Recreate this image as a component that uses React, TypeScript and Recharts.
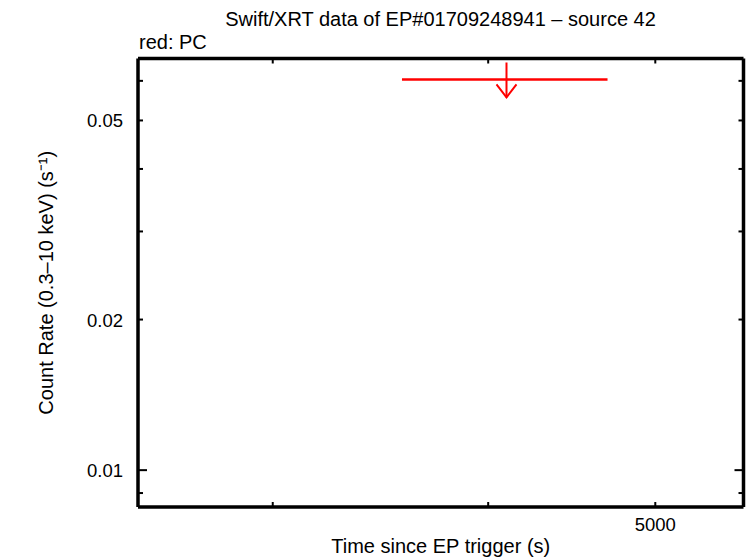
import React from 'react';
import { ScatterChart, Scatter, XAxis, YAxis, ErrorBar, Label } from 'recharts';

const TITLE = 'Swift/XRT data of EP#01709248941 \u2013 source 42';
const SUBTITLE = 'red: PC';
const X_LABEL = 'Time since EP trigger (s)';
const Y_LABEL = 'Count Rate (0.3\u201310 keV) (s\u207B\u00B9)';

const xDomain = [2506, 5625];
const yDomain = [0.00844, 0.0665];
const xTicks = [3000, 4000, 5000];
const xTickLabels: Record<number, string> = { 5000: '5000' };
const yTicks = [0.009, 0.01, 0.02, 0.03, 0.04, 0.05, 0.06];
const yTickLabels: Record<number, string> = { 0.01: '0.01', 0.02: '0.02', 0.05: '0.05' };
const yMajor = [0.01];

// PC upper limit
const pcTime = [4099];
const pcTimeErrLow = [534];
const pcTimeErrHigh = [592];
const pcRate = [0.0604];

const pcData = pcTime.map((t, i) => ({
  t,
  rate: pcRate[i],
  tErr: [pcTimeErrLow[i], pcTimeErrHigh[i]],
}));

const FONT = 'Liberation Sans, Arial, Helvetica, sans-serif';
const FS = 20;
const FS_NUM = 18.5;
const RED = '#ff0000';

const BottomTick = (props: any) => {
  const { x, y, payload } = props;
  const lab = xTickLabels[payload.value];
  return (
    <g>
      <line x1={x} y1={y} x2={x} y2={y - 5} stroke="#000" strokeWidth={2} />
      {lab && (
        <text x={x} y={y + 24} textAnchor="middle" fontSize={FS_NUM} fontFamily={FONT} fill="#000">
          {lab}
        </text>
      )}
    </g>
  );
};

const TopTick = (props: any) => {
  const { x, y } = props;
  return <line x1={x} y1={y} x2={x} y2={y + 5} stroke="#000" strokeWidth={2} />;
};

const LeftTick = (props: any) => {
  const { x, y, payload } = props;
  const lab = yTickLabels[payload.value];
  const len = yMajor.includes(payload.value) ? 9 : 5;
  return (
    <g>
      <line x1={x} y1={y} x2={x + len} y2={y} stroke="#000" strokeWidth={2} />
      {lab && (
        <text x={x - 15} y={y + 7} textAnchor="end" fontSize={FS_NUM} fontFamily={FONT} fill="#000">
          {lab}
        </text>
      )}
    </g>
  );
};

const RightTick = (props: any) => {
  const { x, y, payload } = props;
  const len = yMajor.includes(payload.value) ? 9 : 5;
  return <line x1={x} y1={y} x2={x - len} y2={y} stroke="#000" strokeWidth={2} />;
};

const UpperLimit = (props: any) => {
  const { cx, cy } = props;
  if (cx == null || cy == null) return null;
  return (
    <g stroke={RED} strokeWidth={2} fill="none">
      <line x1={cx} y1={cy - 17} x2={cx} y2={cy + 18} />
      <polyline points={`${cx - 10},${cy + 5} ${cx},${cy + 18} ${cx + 10},${cy + 5}`} />
    </g>
  );
};

export default function App() {
  return (
    <div style={{ position: 'absolute', left: 0, top: 0, width: 746, height: 558, background: '#fff' }}>
      <div
        style={{
          position: 'absolute', left: 138, width: 605, top: 9, textAlign: 'center',
          fontFamily: FONT, fontSize: FS, lineHeight: '20px', color: '#000', whiteSpace: 'nowrap',
        }}
      >
        {TITLE}
      </div>
      <div
        style={{
          position: 'absolute', left: 139, top: 32, fontFamily: FONT, fontSize: FS,
          lineHeight: '20px', color: '#000',
        }}
      >
        {SUBTITLE}
      </div>
      <ScatterChart width={746} height={558} margin={{ top: 52, right: 0, bottom: 0, left: 0 }}>
        <XAxis
          xAxisId="b"
          dataKey="t"
          type="number"
          scale="log"
          domain={xDomain}
          allowDataOverflow
          ticks={xTicks}
          interval={0}
          orientation="bottom"
          height={51}
          tickSize={0}
          tickMargin={0}
          tickLine={false}
          axisLine={{ stroke: '#000', strokeWidth: 3.5 }}
          tick={<BottomTick />}
        >
          <Label
            value={X_LABEL}
            position="insideBottom"
            offset={5}
            style={{ fontSize: FS, fontFamily: FONT, fill: '#000' }}
          />
        </XAxis>
        <XAxis
          xAxisId="t"
          dataKey="t"
          type="number"
          scale="log"
          domain={xDomain}
          allowDataOverflow
          ticks={xTicks}
          interval={0}
          orientation="top"
          height={6.5}
          tickSize={0}
          tickMargin={0}
          tickLine={false}
          axisLine={{ stroke: '#000', strokeWidth: 3.5 }}
          tick={<TopTick />}
        />
        <YAxis
          yAxisId="l"
          dataKey="rate"
          type="number"
          scale="log"
          domain={yDomain}
          allowDataOverflow
          ticks={yTicks}
          interval={0}
          orientation="left"
          width={138}
          tickSize={0}
          tickMargin={0}
          tickLine={false}
          axisLine={{ stroke: '#000', strokeWidth: 3.5 }}
          tick={<LeftTick />}
        >
          <Label
            value={Y_LABEL}
            angle={-90}
            position="insideLeft"
            offset={46}
            style={{ fontSize: FS, fontFamily: FONT, fill: '#000', textAnchor: 'middle' }}
          />
        </YAxis>
        <YAxis
          yAxisId="r"
          dataKey="rate"
          type="number"
          scale="log"
          domain={yDomain}
          allowDataOverflow
          ticks={yTicks}
          interval={0}
          orientation="right"
          width={2.5}
          tickSize={0}
          tickMargin={0}
          tickLine={false}
          axisLine={{ stroke: '#000', strokeWidth: 3.5 }}
          tick={<RightTick />}
        />
        <Scatter
          data={pcData}
          xAxisId="b"
          yAxisId="l"
          dataKey="rate"
          shape={<UpperLimit />}
          isAnimationActive={false}
        >
          <ErrorBar dataKey="tErr" direction="x" stroke={RED} strokeWidth={2.5} width={0} />
        </Scatter>
      </ScatterChart>
    </div>
  );
}
